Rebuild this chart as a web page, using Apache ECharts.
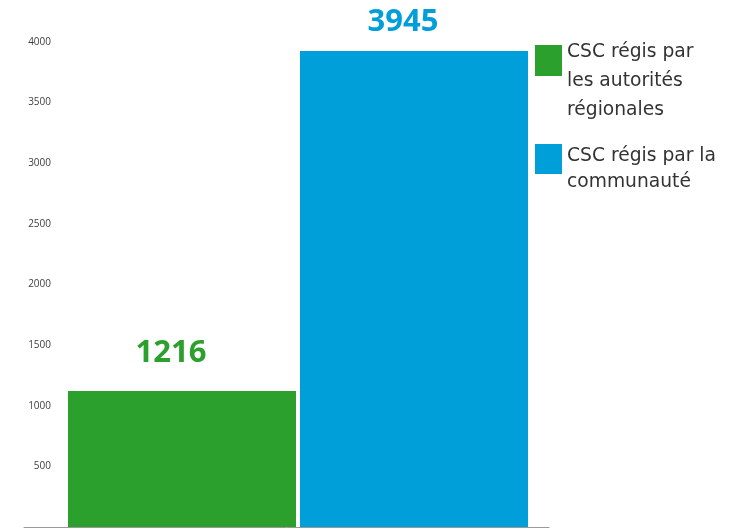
<!DOCTYPE html>
<html>
<head>
<meta charset="utf-8">
<script src="https://cdn.jsdelivr.net/npm/echarts@6/dist/echarts.min.js"></script>
<style>html,body{margin:0;padding:0;background:#fff}#c{width:729px;height:529px}</style>
</head>
<body>
<div id="c"></div>
<script>
// Data
var categories = ['CSC régis par\nles autorités\nrégionales', 'CSC régis par la\ncommunauté'];
var barValues = [1122, 3926];      // bar heights as drawn against the axis
var labelValues = [1216, 3945];    // printed values above the bars
var yTicks = [500, 1000, 1500, 2000, 2500, 3000, 3500, 4000];
var colors = ['#2ca02d', '#009fda'];

var chart = echarts.init(document.getElementById('c'), null, {renderer: 'canvas'});

var gridTop = 42, gridBottom = 2;

var option = {
  animation: false,
  backgroundColor: '#ffffff',
  grid: [
    {left: 66, right: 199, top: gridTop, bottom: gridBottom},
    {left: 24, right: 180, top: gridTop, bottom: gridBottom}
  ],
  xAxis: [
    {type: 'category', gridIndex: 0, data: categories,
     axisLine: {show: false}, axisTick: {show: false}, axisLabel: {show: false}},
    {type: 'category', gridIndex: 1, data: [''],
     axisLine: {show: true, lineStyle: {color: '#999999', width: 1}},
     axisTick: {show: false}, axisLabel: {show: false}}
  ],
  yAxis: [
    {type: 'value', gridIndex: 0, min: 0, max: yTicks[yTicks.length - 1], interval: yTicks[0],
     axisLine: {show: false}, axisTick: {show: false}, splitLine: {show: false},
     axisLabel: {show: true, margin: 15, color: '#404040', fontSize: 10, fontFamily: 'Open Sans',
       formatter: function (v) { return yTicks.indexOf(v) >= 0 ? String(v) : ''; }}},
    {type: 'value', gridIndex: 1, min: 0, max: yTicks[yTicks.length - 1], show: false}
  ],
  legend: [
    {orient: 'vertical', left: 535, top: -4, padding: 0, itemWidth: 27, itemHeight: 31,
     itemGap: 0, selectedMode: false, icon: 'rect',
     data: [{name: categories[0]}],
     formatter: function (n) { return '{s| }\n' + n; },
     textStyle: {fontFamily: 'DejaVu Sans', fontSize: 18.7, color: '#333333', lineHeight: 29,
       rich: {s: {fontSize: 2, lineHeight: 42}}}},
    {orient: 'vertical', left: 535, top: 123, padding: 0, itemWidth: 27, itemHeight: 30,
     itemGap: 0, selectedMode: false, icon: 'rect',
     data: [{name: categories[1]}],
     formatter: function (n) { return '{s| }\n' + n; },
     textStyle: {fontFamily: 'DejaVu Sans', fontSize: 18.7, color: '#333333', lineHeight: 26,
       rich: {s: {fontSize: 2, lineHeight: 20}}}}
  ],
  series: [
    {name: categories[0], type: 'bar', xAxisIndex: 0, yAxisIndex: 0, stack: 's',
     barWidth: 228, itemStyle: {color: colors[0]},
     data: [barValues[0], '-']},
    {name: categories[1], type: 'bar', xAxisIndex: 0, yAxisIndex: 0, stack: 's',
     barWidth: 228, itemStyle: {color: colors[1]},
     data: ['-', barValues[1]]},
    {type: 'scatter', xAxisIndex: 0, yAxisIndex: 0, symbolSize: 0, silent: true,
     itemStyle: {opacity: 1},
     data: labelValues.map(function (v, i) {
       return {value: v, label: {color: colors[i]}};
     }),
     label: {show: true, position: 'top', distance: 11, offset: [-11, 0], opacity: 1,
       fontFamily: 'Open Sans', fontWeight: 'bold', fontSize: 31, lineHeight: 31,
       formatter: function (p) { return String(p.value); }}}
  ]
};
chart.setOption(option);
</script>
</body>
</html>
